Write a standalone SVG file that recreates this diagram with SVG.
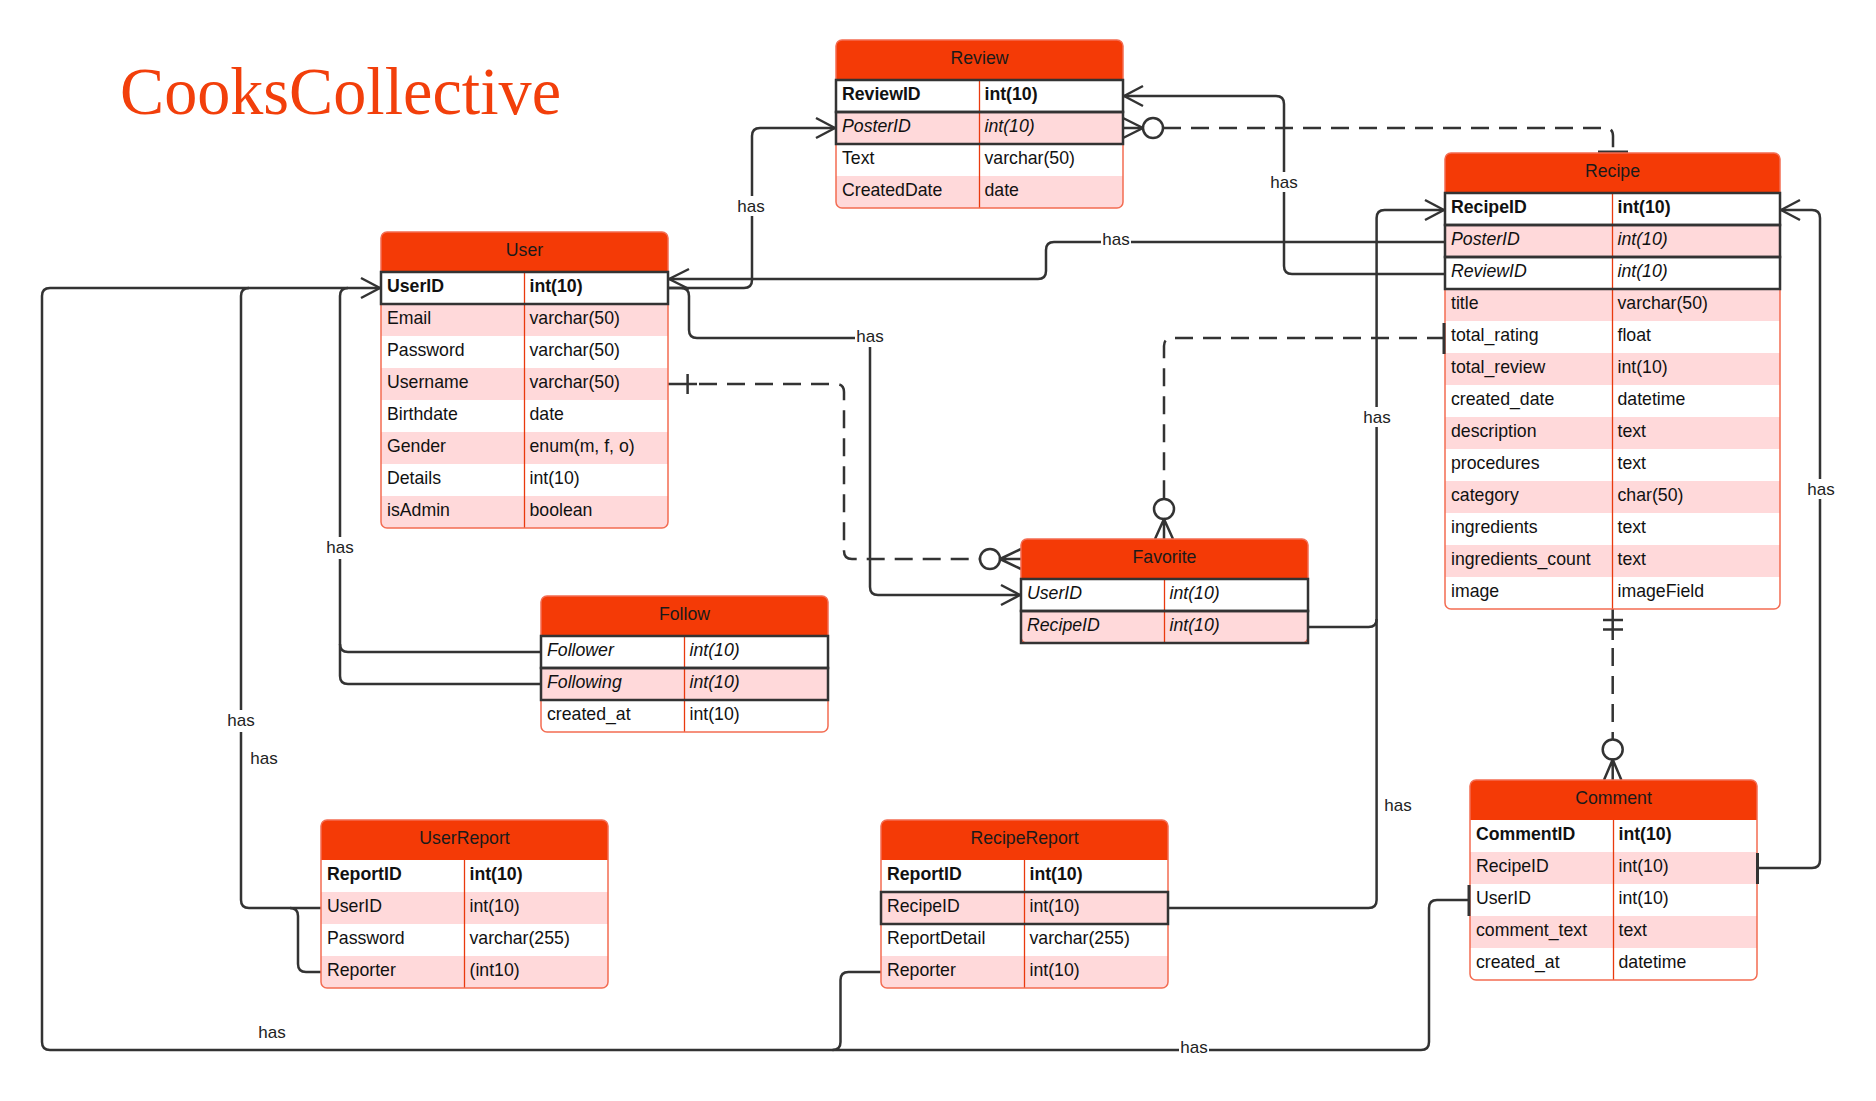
<svg xmlns="http://www.w3.org/2000/svg" width="1876" height="1101" viewBox="0 0 1876 1101">
<style>
.bg{fill:#ffffff}
.hd{fill:#F43A06}
.pk{fill:#FFD9DA}
.ol{fill:none;stroke:#F36C52;stroke-width:1.5}
.dv{stroke:#E93A0E;stroke-width:1.3}
.hl{fill:none;stroke:#333333;stroke-width:2.5}
.t{font-family:"Liberation Sans",Arial,sans-serif;font-size:17.7px;fill:#111111}
.b{font-weight:bold}
.i{font-style:italic}
.ht{text-anchor:middle;fill:#1a1a1a}
.cn{fill:none;stroke:#333333;stroke-width:2.5;stroke-linejoin:round}
.ds{stroke-dasharray:18 10}
.bar{fill:none;stroke:#333333;stroke-width:3}
.circ{fill:#ffffff;stroke:#333333;stroke-width:2.5}
.lbg{fill:#ffffff}
.lb{font-family:"Liberation Sans",Arial,sans-serif;font-size:17px;fill:#222222;text-anchor:middle}
.title{font-family:"Liberation Serif","Times New Roman",serif;font-size:67px;fill:#F23F0B}
</style>
<defs>
<clipPath id="c-user"><rect x="381" y="232" width="287" height="296" rx="6"/></clipPath>
<clipPath id="c-review"><rect x="836" y="40" width="287" height="168" rx="6"/></clipPath>
<clipPath id="c-recipe"><rect x="1445" y="153" width="335" height="456" rx="6"/></clipPath>
<clipPath id="c-fav"><rect x="1021" y="539" width="287" height="104" rx="6"/></clipPath>
<clipPath id="c-follow"><rect x="541" y="596" width="287" height="136" rx="6"/></clipPath>
<clipPath id="c-ur"><rect x="321" y="820" width="287" height="168" rx="6"/></clipPath>
<clipPath id="c-rr"><rect x="881" y="820" width="287" height="168" rx="6"/></clipPath>
<clipPath id="c-com"><rect x="1470" y="780" width="287" height="200" rx="6"/></clipPath>
</defs>

<rect x="0" y="0" width="1876" height="1101" fill="#ffffff"/>

<text class="title" x="120" y="113.6" textLength="441" lengthAdjust="spacingAndGlyphs">CooksCollective</text>

<!-- Connectors -->
<g id="connectors">
  <!-- Recipe.PosterID -> User.UserID -->
  <path class="cn" d="M1445,242 H1054 Q1046,242 1046,250 V271 Q1046,279 1038,279 H669"/>
  <path class="cn" d="M689,269 L669,279 L689,289"/>
  <!-- User.UserID -> Review.PosterID -->
  <path class="cn" d="M668,288 H744 Q752,288 752,280 V136 Q752,128 760,128 H835"/>
  <path class="cn" d="M816,118 L835,128 L816,138"/>
  <!-- User.UserID -> Favorite.UserID -->
  <path class="cn" d="M668,288 H681 Q689,288 689,296 V330 Q689,338 697,338 H862 Q870,338 870,346 V587 Q870,595 878,595 H1020"/>
  <path class="cn" d="M1001,585 L1020,595 L1001,605"/>
  <!-- Recipe.ReviewID -> Review.ReviewID -->
  <path class="cn" d="M1445,274 H1292 Q1284,274 1284,266 V104 Q1284,96 1276,96 H1124"/>
  <path class="cn" d="M1143,86 L1124,96 L1143,106"/>
  <!-- Review.PosterID (many) - Recipe (one), dashed -->
  <path class="cn" d="M1123,128 H1143"/>
  <path class="cn" d="M1123,118 L1143,128 L1123,138"/>
  <circle class="circ" cx="1153" cy="128" r="10"/>
  <path class="cn ds" d="M1163,128 H1605 Q1613,128 1613,136 V152"/>
  <path class="bar" d="M1598,152 H1628"/>
  <!-- Recipe.total_rating (one) - Favorite (many), dashed -->
  <path class="cn ds" d="M1445,338 H1172 Q1164,338 1164,346 V499"/>
  <circle class="circ" cx="1164" cy="509" r="10"/>
  <path class="cn" d="M1155,539 L1164,519 L1173,539 M1164,519 V539"/>
  <!-- User.Username (one) - Favorite (many), dashed -->
  <path class="cn" d="M668,384 H697 M687.6,374 V394"/>
  <path class="cn ds" d="M699,384 H836 Q844,384 844,392 V551 Q844,559 852,559 H980"/>
  <circle class="circ" cx="990" cy="559" r="10"/>
  <path class="cn" d="M1021,549 L1000,559 L1021,569 M1000,559 H1021"/>
  <!-- Recipe (one and only one) - Comment (many), dashed -->
  <path class="cn" d="M1612.7,609 V640 M1603,620 H1623 M1603,629.5 H1623"/>
  <path class="cn ds" d="M1612.7,648 V739"/>
  <circle class="circ" cx="1612.7" cy="749.5" r="10"/>
  <path class="cn" d="M1604,780 L1612.7,759.5 L1621.4,780 M1612.7,759.5 V780"/>
  <!-- Favorite.RecipeID -> Recipe.RecipeID -->
  <path class="cn" d="M1308,627 H1368.6 Q1376.6,627 1376.6,619 V218 Q1376.6,210 1384.6,210 H1444"/>
  <path class="cn" d="M1425,200 L1444,210 L1425,220"/>
  <!-- RecipeReport.RecipeID -> Recipe.RecipeID -->
  <path class="cn" d="M1168,908 H1368.6 Q1376.6,908 1376.6,900 V619"/>
  <!-- Comment.RecipeID -> Recipe.RecipeID -->
  <path class="cn" d="M1757,868 H1812 Q1820,868 1820,860 V218 Q1820,210 1812,210 H1781"/>
  <path class="cn" d="M1800,200 L1781,210 L1800,220"/>
  <!-- Comment.UserID -> User.UserID -->
  <path class="cn" d="M1470,900 H1437 Q1429,900 1429,908 V1042 Q1429,1050 1421,1050 H50 Q42,1050 42,1042 V296 Q42,288 50,288 H380"/>
  <path class="cn" d="M361,278 L380,288 L361,298"/>
  <!-- RecipeReport.Reporter -> User -->
  <path class="cn" d="M881,972 H848.5 Q840.5,972 840.5,980 V1042 Q840.5,1050 832.5,1050"/>
  <!-- UserReport.UserID -> User -->
  <path class="cn" d="M321,908 H249 Q241,908 241,900 V296 Q241,288 249,288"/>
  <!-- UserReport.Reporter -> User -->
  <path class="cn" d="M321,972 H306 Q298,972 298,964 V916 Q298,908 290,908"/>
  <!-- Follow.Follower / Following -> User -->
  <path class="cn" d="M541,652 H348 Q340,652 340,644 V296 Q340,288 348,288"/>
  <path class="cn" d="M541,684 H348 Q340,684 340,676 V644"/>

  <!-- labels -->
  <rect class="lbg" x="736" y="196" width="30" height="20"/><text class="lb" x="751" y="212">has</text>
  <rect class="lbg" x="1101" y="229" width="30" height="20"/><text class="lb" x="1116" y="245">has</text>
  <rect class="lbg" x="855" y="327" width="30" height="20"/><text class="lb" x="870" y="342">has</text>
  <rect class="lbg" x="1269" y="172" width="30" height="20"/><text class="lb" x="1284" y="188">has</text>
  <rect class="lbg" x="1362" y="407" width="30" height="20"/><text class="lb" x="1377" y="423">has</text>
  <rect class="lbg" x="1806" y="479" width="30" height="20"/><text class="lb" x="1821" y="495">has</text>
  <text class="lb" x="1398" y="811">has</text>
  <rect class="lbg" x="1179" y="1037" width="30" height="20"/><text class="lb" x="1194" y="1053">has</text>
  <text class="lb" x="272" y="1038">has</text>
  <rect class="lbg" x="325" y="537" width="30" height="22"/><text class="lb" x="340" y="553">has</text>
  <rect class="lbg" x="226" y="710" width="30" height="22"/><text class="lb" x="241" y="726">has</text>
  <text class="lb" x="264" y="764">has</text>
</g>

<!-- User -->
<g id="user">
  <g clip-path="url(#c-user)">
    <rect class="bg" x="381" y="232" width="287" height="296"/>
    <rect class="hd" x="381" y="232" width="287" height="40"/>
    <rect class="pk" x="381" y="304" width="287" height="32"/>
    <rect class="pk" x="381" y="368" width="287" height="32"/>
    <rect class="pk" x="381" y="432" width="287" height="32"/>
    <rect class="pk" x="381" y="496" width="287" height="32"/>
  </g>
  <line class="dv" x1="524.5" y1="272" x2="524.5" y2="528"/>
  <rect class="ol" x="381" y="232" width="287" height="296" rx="6"/>
  <rect class="hl" x="381" y="272" width="287" height="32"/>
  <text class="t ht" x="524.5" y="256">User</text>
  <text class="t b" x="387" y="292">UserID</text><text class="t b" x="529.5" y="292">int(10)</text>
  <text class="t" x="387" y="324">Email</text><text class="t" x="529.5" y="324">varchar(50)</text>
  <text class="t" x="387" y="356">Password</text><text class="t" x="529.5" y="356">varchar(50)</text>
  <text class="t" x="387" y="388">Username</text><text class="t" x="529.5" y="388">varchar(50)</text>
  <text class="t" x="387" y="420">Birthdate</text><text class="t" x="529.5" y="420">date</text>
  <text class="t" x="387" y="452">Gender</text><text class="t" x="529.5" y="452">enum(m, f, o)</text>
  <text class="t" x="387" y="484">Details</text><text class="t" x="529.5" y="484">int(10)</text>
  <text class="t" x="387" y="516">isAdmin</text><text class="t" x="529.5" y="516">boolean</text>
</g>

<!-- Review -->
<g id="review">
  <g clip-path="url(#c-review)">
    <rect class="bg" x="836" y="40" width="287" height="168"/>
    <rect class="hd" x="836" y="40" width="287" height="40"/>
    <rect class="pk" x="836" y="112" width="287" height="32"/>
    <rect class="pk" x="836" y="176" width="287" height="32"/>
  </g>
  <line class="dv" x1="979.5" y1="80" x2="979.5" y2="208"/>
  <rect class="ol" x="836" y="40" width="287" height="168" rx="6"/>
  <rect class="hl" x="836" y="80" width="287" height="32"/>
  <rect class="hl" x="836" y="112" width="287" height="32"/>
  <text class="t ht" x="979.5" y="64">Review</text>
  <text class="t b" x="842" y="100">ReviewID</text><text class="t b" x="984.5" y="100">int(10)</text>
  <text class="t i" x="842" y="132">PosterID</text><text class="t i" x="984.5" y="132">int(10)</text>
  <text class="t" x="842" y="164">Text</text><text class="t" x="984.5" y="164">varchar(50)</text>
  <text class="t" x="842" y="196">CreatedDate</text><text class="t" x="984.5" y="196">date</text>
</g>

<!-- Recipe -->
<g id="recipe">
  <g clip-path="url(#c-recipe)">
    <rect class="bg" x="1445" y="153" width="335" height="456"/>
    <rect class="hd" x="1445" y="153" width="335" height="40"/>
    <rect class="pk" x="1445" y="225" width="335" height="32"/>
    <rect class="pk" x="1445" y="289" width="335" height="32"/>
    <rect class="pk" x="1445" y="353" width="335" height="32"/>
    <rect class="pk" x="1445" y="417" width="335" height="32"/>
    <rect class="pk" x="1445" y="481" width="335" height="32"/>
    <rect class="pk" x="1445" y="545" width="335" height="32"/>
  </g>
  <line class="dv" x1="1612.5" y1="193" x2="1612.5" y2="609"/>
  <rect class="ol" x="1445" y="153" width="335" height="456" rx="6"/>
  <rect class="hl" x="1445" y="193" width="335" height="32"/>
  <rect class="hl" x="1445" y="225" width="335" height="32"/>
  <rect class="hl" x="1445" y="257" width="335" height="32"/>
  <text class="t ht" x="1612.5" y="177">Recipe</text>
  <text class="t b" x="1451" y="213">RecipeID</text><text class="t b" x="1617.5" y="213">int(10)</text>
  <text class="t i" x="1451" y="245">PosterID</text><text class="t i" x="1617.5" y="245">int(10)</text>
  <text class="t i" x="1451" y="277">ReviewID</text><text class="t i" x="1617.5" y="277">int(10)</text>
  <text class="t" x="1451" y="309">title</text><text class="t" x="1617.5" y="309">varchar(50)</text>
  <text class="t" x="1451" y="341">total_rating</text><text class="t" x="1617.5" y="341">float</text>
  <text class="t" x="1451" y="373">total_review</text><text class="t" x="1617.5" y="373">int(10)</text>
  <text class="t" x="1451" y="405">created_date</text><text class="t" x="1617.5" y="405">datetime</text>
  <text class="t" x="1451" y="437">description</text><text class="t" x="1617.5" y="437">text</text>
  <text class="t" x="1451" y="469">procedures</text><text class="t" x="1617.5" y="469">text</text>
  <text class="t" x="1451" y="501">category</text><text class="t" x="1617.5" y="501">char(50)</text>
  <text class="t" x="1451" y="533">ingredients</text><text class="t" x="1617.5" y="533">text</text>
  <text class="t" x="1451" y="565">ingredients_count</text><text class="t" x="1617.5" y="565">text</text>
  <text class="t" x="1451" y="597">image</text><text class="t" x="1617.5" y="597">imageField</text>
</g>

<!-- Favorite -->
<g id="favorite">
  <g clip-path="url(#c-fav)">
    <rect class="bg" x="1021" y="539" width="287" height="104"/>
    <rect class="hd" x="1021" y="539" width="287" height="40"/>
    <rect class="pk" x="1021" y="611" width="287" height="32"/>
  </g>
  <line class="dv" x1="1164.5" y1="579" x2="1164.5" y2="643"/>
  <rect class="ol" x="1021" y="539" width="287" height="104" rx="6"/>
  <rect class="hl" x="1021" y="579" width="287" height="32"/>
  <rect class="hl" x="1021" y="611" width="287" height="32"/>
  <text class="t ht" x="1164.5" y="563">Favorite</text>
  <text class="t i" x="1027" y="599">UserID</text><text class="t i" x="1169.5" y="599">int(10)</text>
  <text class="t i" x="1027" y="631">RecipeID</text><text class="t i" x="1169.5" y="631">int(10)</text>
</g>

<!-- Follow -->
<g id="follow">
  <g clip-path="url(#c-follow)">
    <rect class="bg" x="541" y="596" width="287" height="136"/>
    <rect class="hd" x="541" y="596" width="287" height="40"/>
    <rect class="pk" x="541" y="668" width="287" height="32"/>
  </g>
  <line class="dv" x1="684.5" y1="636" x2="684.5" y2="732"/>
  <rect class="ol" x="541" y="596" width="287" height="136" rx="6"/>
  <rect class="hl" x="541" y="636" width="287" height="32"/>
  <rect class="hl" x="541" y="668" width="287" height="32"/>
  <text class="t ht" x="684.5" y="620">Follow</text>
  <text class="t i" x="547" y="656">Follower</text><text class="t i" x="689.5" y="656">int(10)</text>
  <text class="t i" x="547" y="688">Following</text><text class="t i" x="689.5" y="688">int(10)</text>
  <text class="t" x="547" y="720">created_at</text><text class="t" x="689.5" y="720">int(10)</text>
</g>

<!-- UserReport -->
<g id="userreport">
  <g clip-path="url(#c-ur)">
    <rect class="bg" x="321" y="820" width="287" height="168"/>
    <rect class="hd" x="321" y="820" width="287" height="40"/>
    <rect class="pk" x="321" y="892" width="287" height="32"/>
    <rect class="pk" x="321" y="956" width="287" height="32"/>
  </g>
  <line class="dv" x1="464.5" y1="860" x2="464.5" y2="988"/>
  <rect class="ol" x="321" y="820" width="287" height="168" rx="6"/>
  <text class="t ht" x="464.5" y="844">UserReport</text>
  <text class="t b" x="327" y="880">ReportID</text><text class="t b" x="469.5" y="880">int(10)</text>
  <text class="t" x="327" y="912">UserID</text><text class="t" x="469.5" y="912">int(10)</text>
  <text class="t" x="327" y="944">Password</text><text class="t" x="469.5" y="944">varchar(255)</text>
  <text class="t" x="327" y="976">Reporter</text><text class="t" x="469.5" y="976">(int10)</text>
</g>

<!-- RecipeReport -->
<g id="recipereport">
  <g clip-path="url(#c-rr)">
    <rect class="bg" x="881" y="820" width="287" height="168"/>
    <rect class="hd" x="881" y="820" width="287" height="40"/>
    <rect class="pk" x="881" y="892" width="287" height="32"/>
    <rect class="pk" x="881" y="956" width="287" height="32"/>
  </g>
  <line class="dv" x1="1024.5" y1="860" x2="1024.5" y2="988"/>
  <rect class="ol" x="881" y="820" width="287" height="168" rx="6"/>
  <rect class="hl" x="881" y="892" width="287" height="32"/>
  <text class="t ht" x="1024.5" y="844">RecipeReport</text>
  <text class="t b" x="887" y="880">ReportID</text><text class="t b" x="1029.5" y="880">int(10)</text>
  <text class="t" x="887" y="912">RecipeID</text><text class="t" x="1029.5" y="912">int(10)</text>
  <text class="t" x="887" y="944">ReportDetail</text><text class="t" x="1029.5" y="944">varchar(255)</text>
  <text class="t" x="887" y="976">Reporter</text><text class="t" x="1029.5" y="976">int(10)</text>
</g>

<!-- Comment -->
<g id="comment">
  <g clip-path="url(#c-com)">
    <rect class="bg" x="1470" y="780" width="287" height="200"/>
    <rect class="hd" x="1470" y="780" width="287" height="40"/>
    <rect class="pk" x="1470" y="852" width="287" height="32"/>
    <rect class="pk" x="1470" y="916" width="287" height="32"/>
  </g>
  <line class="dv" x1="1613.5" y1="820" x2="1613.5" y2="980"/>
  <rect class="ol" x="1470" y="780" width="287" height="200" rx="6"/>
  <text class="t ht" x="1613.5" y="804">Comment</text>
  <text class="t b" x="1476" y="840">CommentID</text><text class="t b" x="1618.5" y="840">int(10)</text>
  <text class="t" x="1476" y="872">RecipeID</text><text class="t" x="1618.5" y="872">int(10)</text>
  <text class="t" x="1476" y="904">UserID</text><text class="t" x="1618.5" y="904">int(10)</text>
  <text class="t" x="1476" y="936">comment_text</text><text class="t" x="1618.5" y="936">text</text>
  <text class="t" x="1476" y="968">created_at</text><text class="t" x="1618.5" y="968">datetime</text>
</g>

<!-- one-markers drawn over table edges -->
<g id="edge-marks">
  <path class="bar" d="M1444,323 V354"/>
  <path class="bar" d="M1757.5,853 V884"/>
  <path class="bar" d="M1469,885 V916"/>
</g>
</svg>
